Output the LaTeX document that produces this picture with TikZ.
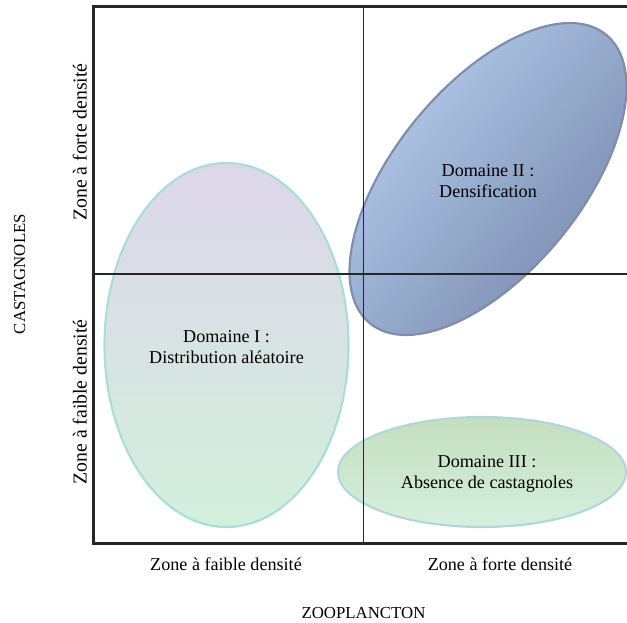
\documentclass[tikz,border=0pt]{standalone}
\usepackage{fontspec}
\setmainfont{Liberation Serif}
\definecolor{domOneTop}{RGB}{221,214,234}
\definecolor{domOneMid}{RGB}{214,224,230}
\definecolor{domOneBot}{RGB}{211,240,220}
\definecolor{domOneRim}{RGB}{170,221,215}
\definecolor{domTwoLight}{RGB}{183,208,240}
\definecolor{domTwoDark}{RGB}{118,134,170}
\definecolor{domTwoRim}{RGB}{128,140,172}
\definecolor{domThreeTop}{RGB}{196,222,190}
\definecolor{domThreeBot}{RGB}{213,240,222}
\definecolor{domThreeRim}{RGB}{178,214,222}
\begin{document}
\begin{tikzpicture}[
      x=0.75pt,y=-0.75pt,
      frame line/.style ={line width=2.25pt,black!85},
      split line/.style ={line width=1.1pt,black!85},
      domain rim/.style ={line width=1.6pt,draw=#1},
      domain text/.style={align=center,font=\fontsize{13.6}{15.8}\selectfont},
      zone label/.style ={anchor=base,font=\fontsize{13.6}{16}\selectfont},
      axis title/.style ={anchor=base,font=\fontsize{12.6}{15}\selectfont}]
    \useasboundingbox (0,0) rectangle (627,622);
    % the three domains
    \draw[domain rim=domOneRim,top color=domOneTop,middle color=domOneMid,bottom color=domOneBot]
      (226.5,345) ellipse [x radius=122, y radius=182];
    \draw[domain rim=domTwoRim,top color=domTwoLight,bottom color=domTwoDark,shading angle=50.7,
      rotate around={50.7:(488,179)}]
      (488,179) ellipse [x radius=186.5, y radius=93.4];
    \draw[domain rim=domThreeRim,top color=domThreeTop,bottom color=domThreeBot]
      (482,472) ellipse [x radius=144, y radius=55];
    \node[domain text] (domOne)   at (226.5,347) {Domaine I :\\Distribution aléatoire};
    \node[domain text] (domTwo)   at (488,181)   {Domaine II :\\Densification};
    \node[domain text] (domThree) at (487,474)   {Domaine III :\\Absence de castagnoles};
    % quadrants and frame
    \draw[split line] (363.3,6) -- (363.3,543);
    \draw[split line] (93.5,273.8) -- (630,273.8);
    \draw[frame line] (630,6) -- (93.5,6) -- (93.5,543) -- (630,543);
    % axis labels
    \node[zone label,rotate=90,font=\fontsize{14.8}{17}\selectfont] (castHigh) at (86.5,142) {Zone à forte densité};
    \node[zone label,rotate=90,font=\fontsize{14.8}{17}\selectfont] (castLow)  at (86.5,402) {Zone à faible densité};
    \node[axis title,rotate=90] (castTitle) at (25,274) {CASTAGNOLES};
    \node[zone label] (zooLow)  at (226,570) {Zone à faible densité};
    \node[zone label] (zooHigh) at (500,570) {Zone à forte densité};
    \node[axis title] (zooTitle) at (363.5,618) {ZOOPLANCTON};
\end{tikzpicture}
\end{document}
